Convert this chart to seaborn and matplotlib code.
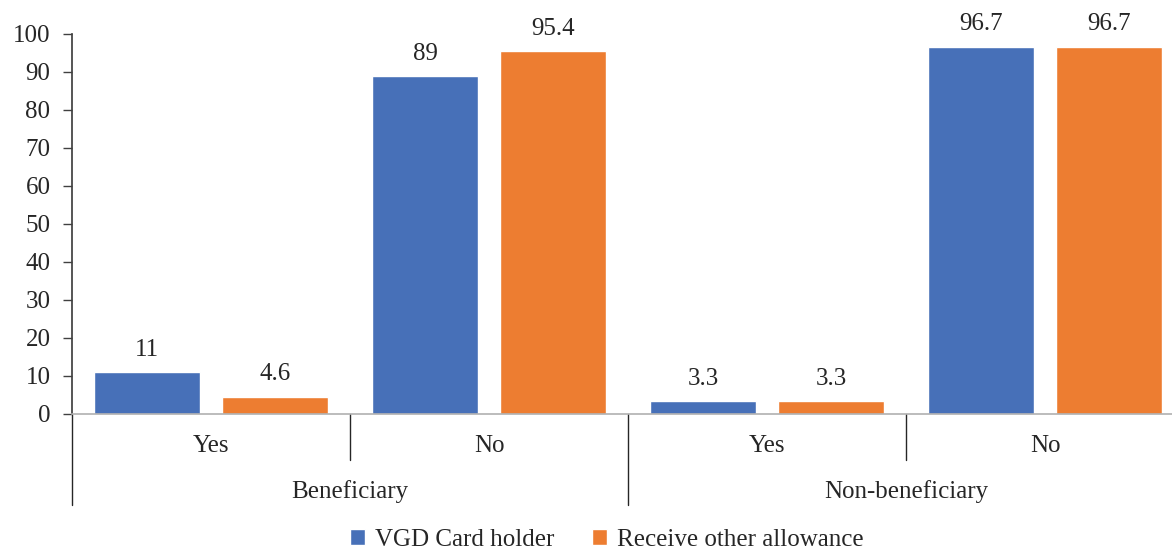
import pandas as pd
import seaborn as sns
import matplotlib.pyplot as plt
import matplotlib.transforms as mtransforms

groups = ["Beneficiary", "Beneficiary", "Non-beneficiary", "Non-beneficiary"]
answers = ["Yes", "No", "Yes", "No"]
vgd_card = [11, 89, 3.3, 96.7]
other_allowance = [4.6, 95.4, 3.3, 96.7]
series = ["VGD Card holder", "Receive other allowance"]
colors = ["#4770B8", "#ED7D31"]

keys = [g + "|" + a for g, a in zip(groups, answers)]
df = pd.DataFrame({
    "cat": keys * 2,
    "value": vgd_card + other_allowance,
    "series": [series[0]] * 4 + [series[1]] * 4,
})

sns.set_theme(style="white")
plt.rcParams["font.family"] = ["Liberation Serif", "DejaVu Serif"]
text_color = "#262626"
fs = 18

fig = plt.figure(figsize=(11.72, 5.51), dpi=100)
ax = fig.add_axes([72 / 1172, 1 - 414 / 551, 1112 / 1172, 380 / 551])

sns.barplot(data=df, x="cat", y="value", hue="series", order=keys,
            hue_order=series, palette=colors, width=0.921, gap=0.172,
            saturation=1, ax=ax, legend=True)

for cont in ax.containers:
    ax.bar_label(cont, fmt="%g", padding=8, fontsize=fs, color=text_color)

ax.set_xlim(-0.5, 3.5)
ax.set_ylim(0, 100)
ax.set_yticks(range(0, 101, 10))
ax.tick_params(axis="y", left=True, length=6.5, width=1, color="#404040",
               labelsize=fs, labelcolor=text_color, pad=9)
ax.set_xticks([])
ax.set_xlabel("")
ax.set_ylabel("")
sns.despine(ax=ax)
ax.spines["left"].set_color("#404040")
ax.spines["bottom"].set_color("#b0b0b0")
ax.spines["bottom"].set_linewidth(1.2)

trans = mtransforms.blended_transform_factory(ax.transData, ax.transAxes)
# category dividers below the axis
for xpos in [-0.5, 1.5, 3.5]:
    ax.plot([xpos, xpos], [0, -0.239], transform=trans, color="#262626",
            lw=1, clip_on=False)
for xpos in [0.5, 2.5]:
    ax.plot([xpos, xpos], [0, -0.121], transform=trans, color="#262626",
            lw=1, clip_on=False)

for i, a in enumerate(answers):
    ax.text(i, -0.083, a, transform=trans, ha="center", va="center",
            fontsize=fs, color=text_color)
for i, g in [(0.5, groups[0]), (2.5, groups[2])]:
    ax.text(i, -0.203, g, transform=trans, ha="center", va="center",
            fontsize=fs, color=text_color)

ax.legend(loc="center", bbox_to_anchor=(607 / 1172, 1 - 540 / 551),
          bbox_transform=fig.transFigure, ncol=2, frameon=False,
          fontsize=fs, handlelength=0.6, handleheight=0.6,
          handletextpad=0.4, columnspacing=1.5, labelcolor=text_color)

fig.savefig("out.png", dpi=100)
